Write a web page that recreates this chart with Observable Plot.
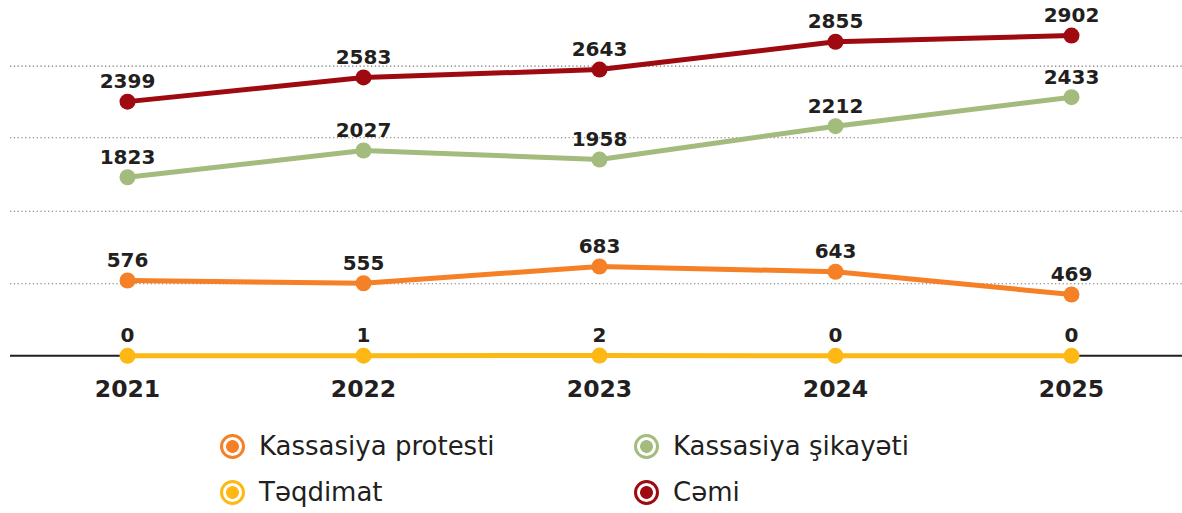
<!DOCTYPE html>
<html>
<head>
<meta charset="utf-8">
<script src="https://cdn.jsdelivr.net/npm/d3@7"></script>
<script src="https://cdn.jsdelivr.net/npm/@observablehq/plot@0.6"></script>
<style>
  html, body { margin: 0; padding: 0; background: #fff; }
  #chart svg { display: block; }
  .legend { position: relative; width: 1182px; height: 93px; font-family: "DejaVu Sans", sans-serif; color: #231f20; }
  .item { position: absolute; display: flex; align-items: center; height: 46px; font-size: 26px; }
  .mk { width: 19px; height: 19px; border-radius: 50%; border: 3px solid; box-sizing: content-box; margin-right: 14px; }
</style>
</head>
<body>
<div id="chart"></div>
<div class="legend" id="legend"></div>
<script>
const years = ["2021", "2022", "2023", "2024", "2025"];
const seriesNames = ["Kassasiya protesti", "Kassasiya şikayəti", "Təqdimat", "Cəmi"];
const seriesColors = ["#f58025", "#a3bc7e", "#fdb814", "#9e0a10"];
const protesti = [576, 555, 683, 643, 469];
const sikayeti = [1823, 2027, 1958, 2212, 2433];
const teqdimat = [0, 1, 2, 0, 0];
const cemi = [2399, 2583, 2643, 2855, 2902];
const gridTicks = [551, 1395, 2124, 2669];
const yBreaks = [0, 700, 1800, 3000];

const valuesBySeries = {
  "Kassasiya protesti": protesti,
  "Kassasiya şikayəti": sikayeti,
  "Təqdimat": teqdimat,
  "Cəmi": cemi
};
const drawOrder = ["Cəmi", "Kassasiya şikayəti", "Kassasiya protesti", "Təqdimat"];
const data = drawOrder.flatMap(s => years.map((y, i) => ({year: y, series: s, value: valuesBySeries[s][i]})));

const ink = "#231f20";
const chart = Plot.plot({
  width: 1182,
  height: 420,
  marginLeft: 10,
  marginRight: 0,
  marginTop: 0,
  marginBottom: 65,
  style: {fontFamily: "DejaVu Sans, sans-serif", background: "#fff"},
  x: {type: "point", domain: years, range: [126.7, 1071], padding: 0, label: null},
  y: {type: "linear", domain: yBreaks, range: [355.3, 263.8, 179.8, 22.2], axis: null},
  color: {domain: seriesNames, range: seriesColors},
  marks: [
    Plot.ruleY(gridTicks, {stroke: "#777", strokeWidth: 1.1, strokeDasharray: "1.3,2.5"}),
    Plot.ruleY([0], {stroke: ink, strokeWidth: 2}),
    Plot.axisX({anchor: "bottom", tickSize: 0, tickPadding: 25, fontSize: 23.5, fontWeight: "bold", fill: ink, label: null}),
    Plot.line(data, {x: "year", y: "value", z: "series", stroke: "series", strokeWidth: 5, curve: "linear"}),
    Plot.dot(data, {x: "year", y: "value", fill: "series", r: 8}),
    Plot.text(data, {x: "year", y: "value", text: d => String(d.value), dy: -20, lineAnchor: "middle", fontSize: 20, fontWeight: "bold", fill: ink})
  ]
});
document.getElementById("chart").appendChild(chart);

// legend
const legendLayout = [
  {name: "Kassasiya protesti", left: 220, top: 3},
  {name: "Kassasiya şikayəti", left: 634, top: 3},
  {name: "Təqdimat", left: 220, top: 49},
  {name: "Cəmi", left: 634, top: 49}
];
const legend = document.getElementById("legend");
for (const it of legendLayout) {
  const c = seriesColors[seriesNames.indexOf(it.name)];
  const div = document.createElement("div");
  div.className = "item";
  div.style.left = it.left + "px";
  div.style.top = it.top + "px";
  const mk = document.createElement("span");
  mk.className = "mk";
  mk.style.borderColor = c;
  mk.style.background = `radial-gradient(circle, ${c} 0 6px, #fff 6.8px)`;
  const tx = document.createElement("span");
  tx.textContent = it.name;
  div.appendChild(mk);
  div.appendChild(tx);
  legend.appendChild(div);
}
</script>
</body>
</html>
